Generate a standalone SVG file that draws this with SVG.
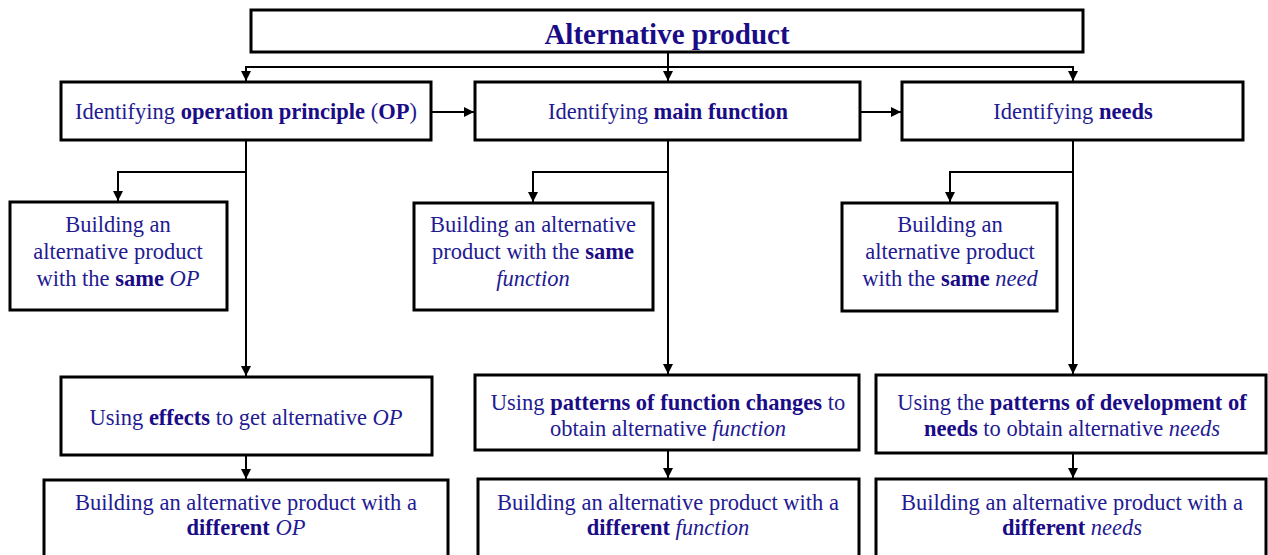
<svg xmlns="http://www.w3.org/2000/svg" width="1268" height="555" viewBox="0 0 1268 555">
<defs>
<marker id="arr" viewBox="0 0 10 10" refX="10" refY="5" markerWidth="10" markerHeight="10" markerUnits="userSpaceOnUse" orient="auto">
<path d="M0,0 L10,5 L0,10 z" fill="#000"/>
</marker>
<style>
.box{fill:#fff;stroke:#000;stroke-width:3}
.ln{fill:none;stroke:#000;stroke-width:2}
.t{font-family:"Liberation Serif",Tinos,"Times New Roman",Times,"Nimbus Roman","DejaVu Serif",serif;font-size:22.5px;fill:#231a92;text-anchor:middle}
.title{font-family:"Liberation Serif",Tinos,"Times New Roman",Times,"Nimbus Roman","DejaVu Serif",serif;font-size:29px;font-weight:bold;fill:#1a0c86;text-anchor:middle}
.b{font-weight:bold;fill:#1a0c86}
.i{font-style:italic}
</style>
</defs>
<rect width="1268" height="555" fill="#fff"/>
<g id="connectors">
<path class="ln" d="M668,52 V81" marker-end="url(#arr)"/>
<path class="ln" d="M246,81 V67 H1073 V81" marker-end="url(#arr)"/>
<path class="ln" d="M246,67 V81" marker-end="url(#arr)"/>
<path class="ln" d="M431,112 H474" marker-end="url(#arr)"/>
<path class="ln" d="M860,112 H901" marker-end="url(#arr)"/>
<path class="ln" d="M246,140 V376" marker-end="url(#arr)"/>
<path class="ln" d="M246,172 H118 V201" marker-end="url(#arr)"/>
<path class="ln" d="M668,140 V374" marker-end="url(#arr)"/>
<path class="ln" d="M668,172 H533 V202" marker-end="url(#arr)"/>
<path class="ln" d="M1073,140 V374" marker-end="url(#arr)"/>
<path class="ln" d="M1073,172 H950 V202" marker-end="url(#arr)"/>
<path class="ln" d="M246,455 V479" marker-end="url(#arr)"/>
<path class="ln" d="M668,450 V478" marker-end="url(#arr)"/>
<path class="ln" d="M1073,453 V478" marker-end="url(#arr)"/>
</g>
<g id="n-top">
<rect class="box" x="251" y="10" width="832" height="42"/>
<text class="title" x="667" y="44" font-family="Liberation Serif, serif">Alternative product</text>
</g>
<g id="n-op">
<rect class="box" x="61" y="82" width="370" height="58"/>
<text class="t" x="246" y="119" font-family="Liberation Serif, serif">Identifying <tspan class="b">operation principle</tspan> (<tspan class="b">OP</tspan>)</text>
</g>
<g id="n-mf">
<rect class="box" x="475" y="82" width="385" height="58"/>
<text class="t" x="668" y="119">Identifying <tspan class="b">main function</tspan></text>
</g>
<g id="n-needs">
<rect class="box" x="902" y="82" width="341" height="58"/>
<text class="t" x="1073" y="119">Identifying <tspan class="b">needs</tspan></text>
</g>
<g id="n-same-op">
<rect class="box" x="10" y="202" width="217" height="108"/>
<text class="t" x="118" y="232">Building an</text>
<text class="t" x="118" y="259">alternative product</text>
<text class="t" x="118" y="286">with the <tspan class="b">same</tspan> <tspan class="i">OP</tspan></text>
</g>
<g id="n-same-func">
<rect class="box" x="414" y="203" width="239" height="107"/>
<text class="t" x="533" y="232">Building an alternative</text>
<text class="t" x="533" y="259">product with the <tspan class="b">same</tspan></text>
<text class="t" x="533" y="286"><tspan class="i">function</tspan></text>
</g>
<g id="n-same-need">
<rect class="box" x="842" y="203" width="215" height="108"/>
<text class="t" x="950" y="232">Building an</text>
<text class="t" x="950" y="259">alternative product</text>
<text class="t" x="950" y="286">with the <tspan class="b">same</tspan> <tspan class="i">need</tspan></text>
</g>
<g id="n-effects">
<rect class="box" x="61" y="377" width="371" height="78"/>
<text class="t" x="246" y="425">Using <tspan class="b">effects</tspan> to get alternative <tspan class="i">OP</tspan></text>
</g>
<g id="n-patterns-func">
<rect class="box" x="475" y="375" width="384" height="75"/>
<text class="t" x="668" y="410">Using <tspan class="b">patterns of function changes</tspan> to</text>
<text class="t" x="668" y="436">obtain alternative <tspan class="i">function</tspan></text>
</g>
<g id="n-patterns-needs">
<rect class="box" x="876" y="375" width="390" height="78"/>
<text class="t" x="1072" y="410">Using the <tspan class="b">patterns of development of</tspan></text>
<text class="t" x="1072" y="436"><tspan class="b">needs</tspan> to obtain alternative <tspan class="i">needs</tspan></text>
</g>
<g id="n-diff-op">
<rect class="box" x="44" y="480" width="404" height="95"/>
<text class="t" x="246" y="510">Building an alternative product with a</text>
<text class="t" x="246" y="535"><tspan class="b">different</tspan> <tspan class="i">OP</tspan></text>
</g>
<g id="n-diff-func">
<rect class="box" x="478" y="479" width="381" height="96"/>
<text class="t" x="668" y="510">Building an alternative product with a</text>
<text class="t" x="668" y="535"><tspan class="b">different</tspan> <tspan class="i">function</tspan></text>
</g>
<g id="n-diff-needs">
<rect class="box" x="876" y="479" width="390" height="96"/>
<text class="t" x="1072" y="510">Building an alternative product with a</text>
<text class="t" x="1072" y="535"><tspan class="b">different</tspan> <tspan class="i">needs</tspan></text>
</g>
</svg>
